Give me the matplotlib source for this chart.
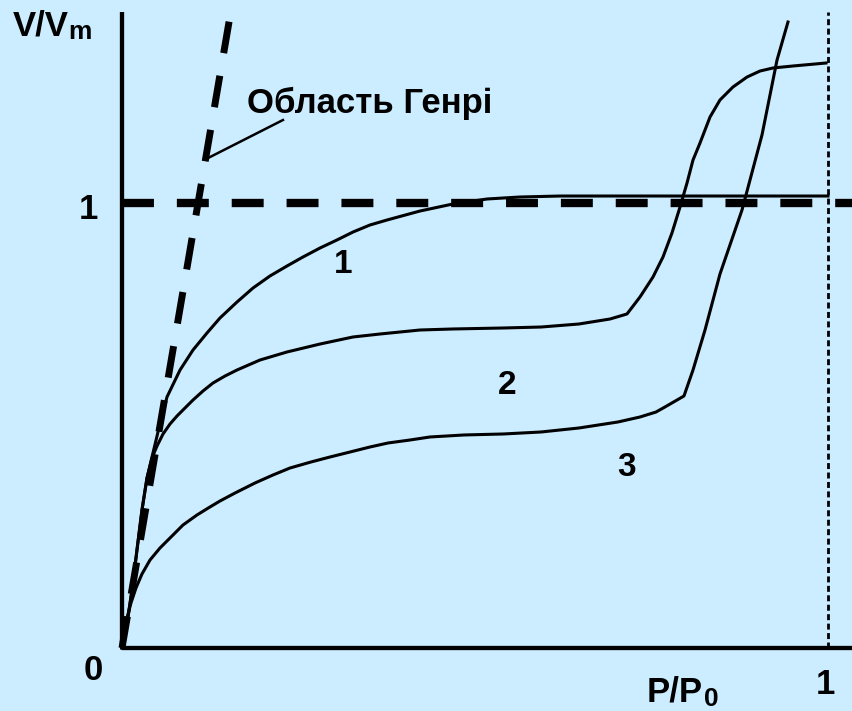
import matplotlib.pyplot as plt

plt.rcParams['font.family'] = ['Liberation Sans', 'DejaVu Sans']
plt.rcParams['lines.scale_dashes'] = False

BG = '#CCECFF'

# isotherm 1 (Langmuir type)
x1 = [0, 0.0057, 0.0085, 0.0142, 0.0212, 0.0283, 0.0354, 0.0425, 0.051,
      0.0637, 0.0822, 0.1006, 0.1204, 0.1388, 0.1629, 0.1856, 0.2096, 0.2337,
      0.2564, 0.2805, 0.3045, 0.3272, 0.3513, 0.3754, 0.4221, 0.4688, 0.517,
      0.5637, 0.6204, 1.0]
y1 = [0, 0.0404, 0.0697, 0.1303, 0.2202, 0.3101, 0.382, 0.4292, 0.4854,
      0.564, 0.6247, 0.6697, 0.7079, 0.7416, 0.7775, 0.809, 0.836, 0.8584,
      0.8787, 0.8989, 0.9169, 0.9348, 0.9506, 0.9618, 0.982, 0.9978, 1.009,
      1.0135, 1.0157, 1.0157]

# isotherm 2 (polymolecular, with capillary condensation step)
x2 = [0, 0.0057, 0.0085, 0.0142, 0.0212, 0.0283, 0.0354, 0.0425, 0.0496,
      0.0581, 0.068, 0.0779, 0.0892, 0.1006, 0.1147, 0.1289, 0.1459, 0.1629,
      0.1955, 0.2337, 0.2805, 0.3272, 0.3654, 0.4221, 0.4688, 0.5397, 0.5935,
      0.6473, 0.6912, 0.7153, 0.7337, 0.7521, 0.7663, 0.779, 0.7904, 0.8003,
      0.8088, 0.8187, 0.8329, 0.847, 0.8654, 0.8853, 0.9037, 0.9221, 0.9504,
      0.9972]
y2 = [0, 0.0404, 0.0697, 0.1303, 0.2202, 0.3101, 0.382, 0.4270, 0.4539,
      0.4809, 0.5034, 0.5213, 0.5393, 0.5573, 0.5775, 0.5955, 0.6112, 0.6247,
      0.6472, 0.6652, 0.6831, 0.6989, 0.7056, 0.7146, 0.7169, 0.7191, 0.7213,
      0.7281, 0.7393, 0.7506, 0.7888, 0.8337, 0.8787, 0.9326, 0.991, 1.0449,
      1.0966, 1.1348, 1.1933, 1.2315, 1.2607, 1.2831, 1.2966, 1.3034, 1.3079,
      1.3146]

# isotherm 3
x3 = [0, 0.0028, 0.0071, 0.0127, 0.0198, 0.0283, 0.0397, 0.0538, 0.0694,
      0.0864, 0.1062, 0.1246, 0.1388, 0.1601, 0.1884, 0.2139, 0.238, 0.2677,
      0.2946, 0.3229, 0.3513, 0.3768, 0.4079, 0.4363, 0.4844, 0.5397, 0.5935,
      0.6473, 0.7025, 0.7337, 0.7564, 0.7691, 0.796, 0.8088, 0.8258, 0.847,
      0.8782, 0.9065, 0.9278, 0.9433]
y3 = [0, 0.0315, 0.0674, 0.1011, 0.1348, 0.1663, 0.1978, 0.2247, 0.2494,
      0.2764, 0.2989, 0.3169, 0.3303, 0.3483, 0.3708, 0.3888, 0.4045, 0.418,
      0.4292, 0.4404, 0.4517, 0.4607, 0.4674, 0.4742, 0.4787, 0.4809, 0.4854,
      0.4944, 0.5079, 0.5191, 0.5303, 0.5416, 0.5663, 0.6247, 0.7146, 0.8404,
      0.9843, 1.1528, 1.3213, 1.4067]

# Henry region line and its pointer
henry_x = [0, 0.153]
henry_y = [0, 1.42]
pointer_x = [0.228, 0.1218]
pointer_y = [1.1865, 1.101]

curve_labels = ['1', '2', '3']
curve_label_pos = [(0.313, 0.861), (0.5453, 0.591), (0.7153, 0.4045)]

X_MIN, X_MAX = -0.1728, 1.034
Y_MIN, Y_MAX = -0.1416, 1.4562


def draw_axes_lines(ax):
    ax.plot([0, 0], [0, 1.429], color='black', lw=3.1, solid_capstyle='butt')
    ax.plot([0, X_MAX], [0, 0], color='black', lw=3.1, solid_capstyle='butt')
    # monolayer level
    ax.plot([0, X_MAX], [1, 1], color='black', lw=6, dashes=(23, 16.5))
    # saturation pressure
    ax.plot([1, 1], [0, 1.429], color='black', lw=2, dashes=(4.3, 2.5))


def draw_texts(ax):
    bold = dict(fontweight='bold', color='black')
    ax.text(-0.1544, 1.3775, 'V/V', fontsize=25, ha='left', va='baseline', **bold)
    ax.text(-0.0755, 1.369, 'm', fontsize=19, ha='left', va='baseline', **bold)
    ax.text(0.7436, -0.1213, 'P/P', fontsize=25, ha='left', va='baseline', **bold)
    ax.text(0.8245, -0.1303, '0', fontsize=19, ha='left', va='baseline', **bold)
    ax.text(-0.048, 0.9865, '1', fontsize=25, ha='center', va='center', **bold)
    ax.text(-0.041, -0.0517, '0', fontsize=25, ha='center', va='center', **bold)
    ax.text(0.9958, -0.0831, '1', fontsize=25, ha='center', va='center', **bold)
    ax.text(0.177, 1.202, 'Область Генрі', fontsize=25, ha='left',
            va='baseline', **bold)
    for lab, (tx, ty) in zip(curve_labels, curve_label_pos):
        ax.text(tx, ty, lab, fontsize=24, ha='center', va='center', **bold)


fig = plt.figure(figsize=(8.52, 7.11), dpi=100)
fig.patch.set_facecolor(BG)
ax = fig.add_axes([0, 0, 1, 1])
ax.set_facecolor(BG)
ax.set_xlim(X_MIN, X_MAX)
ax.set_ylim(Y_MIN, Y_MAX)
ax.axis('off')

draw_axes_lines(ax)
ax.plot(henry_x, henry_y, color='black', lw=5, dashes=(23, 16.5))
ax.plot(pointer_x, pointer_y, color='black', lw=1.8)

for xs, ys in [(x1, y1), (x2, y2), (x3, y3)]:
    ax.plot(xs, ys, color='black', lw=2.2, solid_joinstyle='round')

draw_texts(ax)

fig.savefig('out.png', dpi=100, facecolor=BG)
